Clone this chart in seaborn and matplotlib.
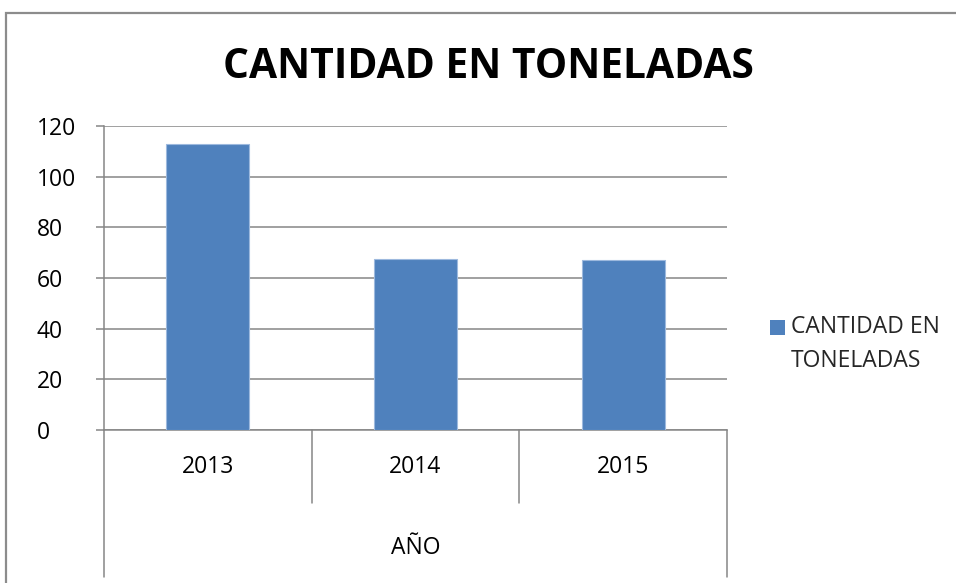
import matplotlib
matplotlib.use("Agg")
import matplotlib.pyplot as plt
from matplotlib.patches import Rectangle
from matplotlib.lines import Line2D
import seaborn as sns
import pandas as pd

# Data
years = ["2013", "2014", "2015"]
toneladas = [113, 67.5, 67]
series_name = "CANTIDAD EN TONELADAS"
axis_title = "AÑO"
y_ticks = [0, 20, 40, 60, 80, 100, 120]

df = pd.DataFrame({"year": years, "ton": toneladas})

sns.set_theme(style="white")
plt.rcParams["font.family"] = ["Open Sans", "DejaVu Sans"]

W, H = 956, 583
fig = plt.figure(figsize=(W / 100, H / 100), dpi=100)

def fx(px):
    return px / W

def fy(py):
    return 1 - py / H

# plot area in pixel coords
left, right, top, bottom = 104, 727, 126, 430
ax = fig.add_axes([fx(left), fy(bottom), fx(right) - fx(left), fy(top) - fy(bottom)])

grey = "#868686"
bar_color = "#4F81BD"
fs = 16.5

sns.barplot(data=df, x="year", y="ton", color=bar_color, width=0.4,
            edgecolor="#9DB9DE", linewidth=0.8, saturation=1, ax=ax, zorder=3)

ax.set_xlim(-0.5, 2.5)
ax.set_ylim(0, 120)
ax.set_yticks(y_ticks)
ax.yaxis.grid(True, color=grey, linewidth=1.1)
ax.set_axisbelow(True)
for s in ["top", "right"]:
    ax.spines[s].set_visible(False)
for s in ["left", "bottom"]:
    ax.spines[s].set_color(grey)
    ax.spines[s].set_linewidth(1.1)
ax.set_xlabel("")
ax.set_ylabel("")
ax.set_xticks([])
ax.tick_params(axis="y", which="major", direction="out", length=5.5, width=1.1,
               color=grey, left=True, pad=43, labelsize=fs, labelcolor="black")
for lbl in ax.get_yticklabels():
    lbl.set_horizontalalignment("left")

# two-level category axis: separators, year labels, axis title
trans = ax.get_xaxis_transform()
inner_y = -(503 - bottom) / (bottom - top)
outer_y = -(577 - bottom) / (bottom - top)
for xs in [-0.5, 0.5, 1.5, 2.5]:
    y_end = outer_y if xs in (-0.5, 2.5) else inner_y
    ax.add_line(Line2D([xs, xs], [0, y_end], transform=trans, color=grey,
                       linewidth=1.1, clip_on=False))
year_y = -(467 - bottom) / (bottom - top)
for i, yr in enumerate(years):
    ax.text(i, year_y, yr, transform=trans, ha="center", va="center",
            fontsize=fs, color="black")
ax.text(1, -(548 - bottom) / (bottom - top), axis_title, transform=trans,
        ha="center", va="center", fontsize=fs, color="black")

# title
fig.text(fx(488), fy(68), series_name, ha="center", va="center",
         fontsize=29.3, fontweight="bold", color="black")

# legend
fig.add_artist(Rectangle((fx(770), fy(335)), fx(15), fy(320) - fy(335),
                         transform=fig.transFigure, facecolor=bar_color,
                         edgecolor="none"))
fig.text(fx(791), fy(327), "CANTIDAD EN", ha="left", va="center", fontsize=fs)
fig.text(fx(791), fy(361), "TONELADAS", ha="left", va="center", fontsize=fs)

# chart border
fig.add_artist(Rectangle((fx(6), fy(H + 20)), fx(W + 40), fy(13) - fy(H + 20),
                         transform=fig.transFigure, facecolor="none",
                         edgecolor="#8C8C8C", linewidth=1.6))

fig.savefig("out.png", dpi=100)
